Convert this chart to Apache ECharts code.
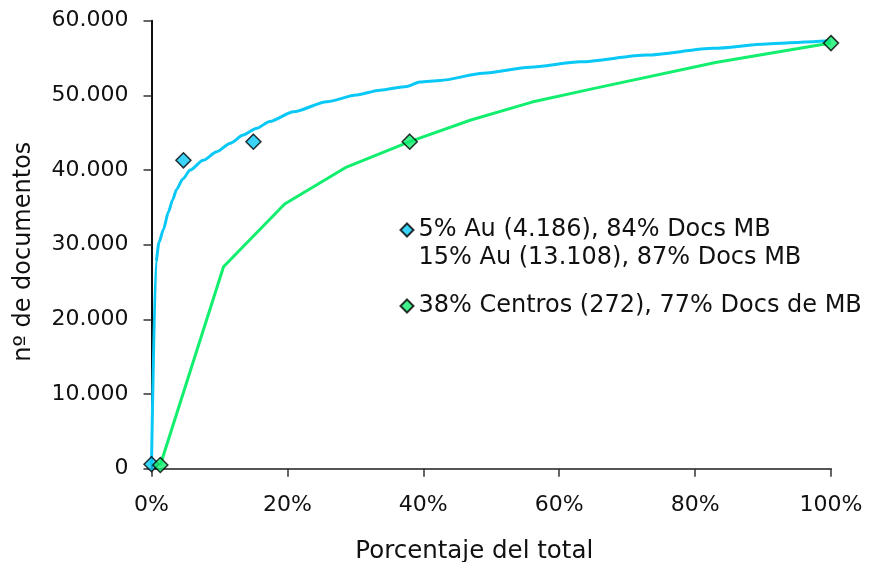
<!DOCTYPE html>
<html>
<head>
<meta charset="utf-8">
<script src="https://cdn.jsdelivr.net/npm/echarts@6/dist/echarts.min.js"></script>
<style>
html,body{margin:0;padding:0;background:#fff;}
#chart{width:869px;height:562px;}
</style>
</head>
<body>
<div id="chart"></div>
<script>
// Data (x = % del total, y = nº de documentos)
const autoresCurveX = [0, 0.66, 1.1, 1.74, 2.5, 3.1, 3.7, 4.6, 5.7, 7.6, 9.6, 11.6, 13.5, 15.5, 17.4, 20.9, 25.8, 30.2, 33.6, 37.6, 39.5, 42.5, 48.8, 55.7, 63.1, 72.9, 82.7, 90.5, 97.4, 100];
const autoresCurveY = [500, 27700, 30300, 32000, 34400, 36000, 37400, 38800, 40000, 41300, 42450, 43600, 44700, 45600, 46500, 47800, 49150, 50050, 50700, 51200, 51800, 52000, 52950, 53760, 54500, 55400, 56300, 56880, 57190, 57300];
const centrosCurveX = [1.3, 10.6, 19.6, 28.7, 38, 47, 56, 65, 83, 100];
const centrosCurveY = [500, 27050, 35450, 40400, 43800, 46700, 49100, 50900, 54400, 57000];
const autoresMarkX = [0, 4.7, 15];
const autoresMarkY = [600, 41300, 43800];
const centrosMarkX = [1.3, 38, 100];
const centrosMarkY = [500, 43800, 57000];
const seriesNames = ['5% Au (4.186), 84% Docs MB', '15% Au (13.108), 87% Docs MB', '38% Centros (272), 77% Docs de MB'];
const xTicks = [0, 20, 40, 60, 80, 100];
const yTicks = [0, 10000, 20000, 30000, 40000, 50000, 60000];

const zip = (xs, ys) => xs.map((x, i) => [x, ys[i]]);
const FONT = 'DejaVu Sans';
const BLUE = '#0AC8F5';
const GREEN = '#12EE6E';

const chart = echarts.init(document.getElementById('chart'), null, {renderer: 'canvas'});
chart.setOption({
  animation: false,
  backgroundColor: '#ffffff',
  textStyle: {fontFamily: FONT, color: '#111'},
  grid: {left: 151.5, top: 20.7, width: 679.5, height: 448, containLabel: false, outerBoundsMode: 'none'},
  xAxis: {
    type: 'value', min: xTicks[0], max: xTicks[xTicks.length - 1], interval: 20,
    name: 'Porcentaje del total', nameLocation: 'middle', nameGap: 70,
    nameTextStyle: {fontFamily: FONT, fontSize: 24.5, color: '#111', padding: [0, 34, 0, 0]},
    axisLine: {lineStyle: {color: '#555', width: 2}},
    axisTick: {show: true, length: 8, lineStyle: {color: '#333', width: 1.5}},
    axisLabel: {fontFamily: FONT, fontSize: 22, color: '#111', margin: 26, formatter: '{value}%'},
    splitLine: {show: false}
  },
  yAxis: {
    type: 'value', min: yTicks[0], max: yTicks[yTicks.length - 1], interval: 10000,
    name: 'nº de documentos', nameLocation: 'middle', nameGap: 116,
    nameTextStyle: {fontFamily: FONT, fontSize: 24, color: '#111', padding: [0, 14, 0, 0]},
    axisLine: {lineStyle: {color: '#111', width: 2}},
    axisTick: {show: true, length: 8, lineStyle: {color: '#333', width: 1.5}},
    axisLabel: {fontFamily: FONT, fontSize: 22, color: '#111', margin: 23,
      formatter: v => String(v).replace(/\B(?=(\d{3})+(?!\d))/g, '.')},
    splitLine: {show: false}
  },
  legend: [
    {
      orient: 'vertical', left: 394.5, top: 211, itemGap: 0, itemWidth: 13, itemHeight: 13,
      textStyle: {fontFamily: FONT, fontSize: 24, color: '#111', lineHeight: 28},
      selectedMode: false,
      data: [
        {name: seriesNames[0], icon: 'diamond'},
        {name: seriesNames[1], icon: 'diamond', itemStyle: {opacity: 0}}
      ]
    },
    {
      orient: 'vertical', left: 394.5, top: 287, itemGap: 0, itemWidth: 13, itemHeight: 13,
      textStyle: {fontFamily: FONT, fontSize: 24, color: '#111', lineHeight: 28},
      selectedMode: false,
      data: [{name: seriesNames[2], icon: 'diamond'}]
    }
  ],
  series: [
    {
      name: 'curvaAutores', type: 'line', data: zip(autoresCurveX, autoresCurveY),
      showSymbol: false, symbol: 'none', smooth: 0.25, smoothMonotone: 'x',
      lineStyle: {color: BLUE, width: 3}, z: 2
    },
    {
      name: 'curvaCentros', type: 'line', data: zip(centrosCurveX, centrosCurveY),
      showSymbol: false, symbol: 'none', lineStyle: {color: GREEN, width: 3}, z: 2
    },
    {
      name: seriesNames[0], type: 'scatter', data: zip(autoresMarkX, autoresMarkY),
      symbol: 'diamond', symbolSize: 15, clip: false,
      itemStyle: {color: BLUE, borderColor: '#000', borderWidth: 1.5}, z: 3
    },
    {
      name: seriesNames[1], type: 'scatter', data: [],
      symbol: 'diamond', itemStyle: {color: 'rgba(0,0,0,0)', borderWidth: 0}
    },
    {
      name: seriesNames[2], type: 'scatter', data: zip(centrosMarkX, centrosMarkY),
      symbol: 'diamond', symbolSize: 15, clip: false,
      itemStyle: {color: GREEN, borderColor: '#000', borderWidth: 1.5}, z: 4
    }
  ]
});
</script>
</body>
</html>
